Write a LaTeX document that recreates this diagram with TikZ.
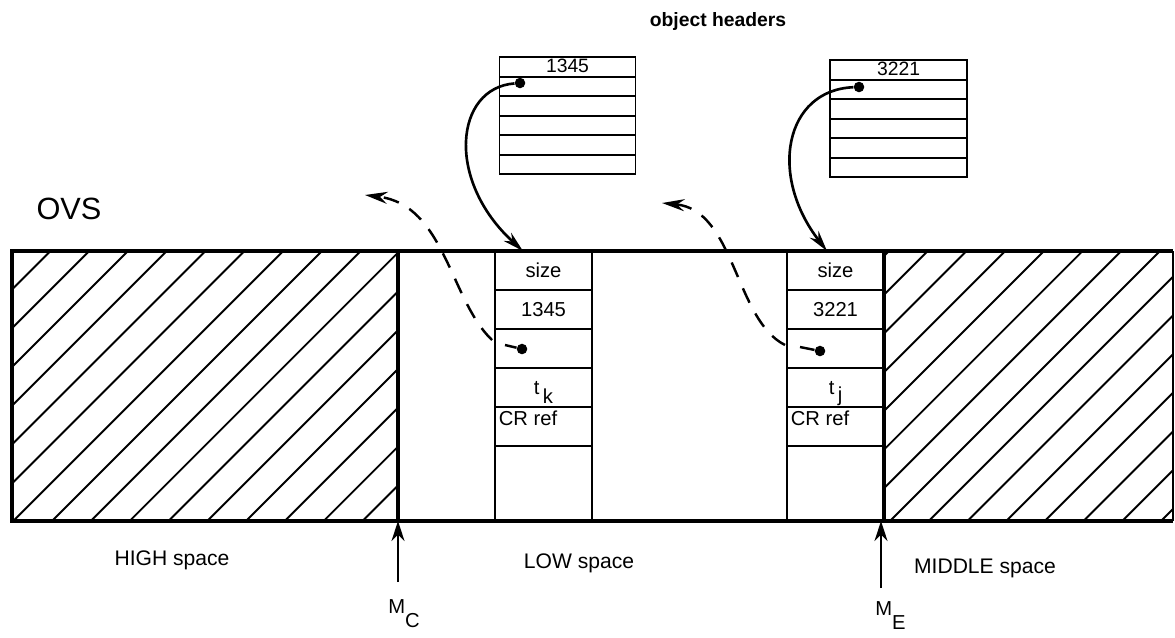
\documentclass[tikz,border=0pt]{standalone}
\usepackage{fontspec}
\setmainfont{Liberation Sans}
\usetikzlibrary{arrows.meta,positioning}

\begin{document}
\begin{tikzpicture}[x=0.02cm, y=-0.02cm,
  cell/.style={draw, line width=1.1pt, outer sep=0pt, minimum width=1.94cm, minimum height=0.78cm, inner sep=1pt, font=\fontsize{11.5}{13}\selectfont},
  hdrow/.style={draw, line width=1.1pt, outer sep=0pt, minimum width=2.72cm, minimum height=0.39cm, inner sep=0pt, text height=7pt, text depth=0pt, font=\fontsize{11}{12}\selectfont},
  lab/.style={font=\fontsize{12}{14}\selectfont},
  ptr/.style={-{Stealth[length=4.2mm, width=2.2mm]}, line width=1.5pt},
  back/.style={-{Stealth[length=4.5mm, width=2.4mm]}, line width=1.4pt, dash pattern=on 9pt off 7pt},
  limarr/.style={-{Stealth[length=4mm, width=2.6mm]}, line width=1.2pt},
  stub/.style={line width=1.4pt},
  dot/.style={circle, fill, inner sep=0pt, minimum size=6pt},
  hatch/.style={line width=1.1pt}
]
\useasboundingbox (0,0) rectangle (1175,637);

% hatched HIGH and MIDDLE space
\begin{scope}
  \clip (12,251) rectangle (398,521);
  \foreach \i in {-8,...,10}
    \draw[hatch] (52+38.8*\i,521) -- ++(275,-275);
\end{scope}
\begin{scope}
  \clip (884,251) rectangle (1173,521);
  \foreach \i in {-8,...,8}
    \draw[hatch] (890+38.7*\i,521) -- ++(275,-275);
\end{scope}

% the OVS bar
\draw[line width=2pt] (1173,251) -- (12,251) -- (12,521) -- (1173,521);
\draw[line width=0.8pt] (1173,251) -- (1173,521);
\coordinate (mc) at (398,521);
\coordinate (me) at (884,521);
\draw[line width=2.4pt] (398,251) -- (mc);
\draw[line width=2.4pt] (884,251) -- (me);

% object in LOW space
\node[cell] (sk) at (543.5,270.5) {size};
\node[cell, below=0pt of sk] (idk) {1345};
\node[cell, below=0pt of idk] (pk) {};
\node[cell, below=0pt of pk] (tk) {\smash{\raisebox{-4pt}{t}}\,\smash{\raisebox{-9pt}{k}}};
\node[cell, below=0pt of tk, label={[anchor=north west, inner sep=2pt, font=\fontsize{11.5}{13}\selectfont]north west:CR ref}] (crk) {};
\node[cell, below=0pt of crk, minimum height=1.5cm] (restk) {};

% object in MIDDLE space
\node[cell] (sj) at (835.5,270.5) {size};
\node[cell, below=0pt of sj] (idj) {3221};
\node[cell, below=0pt of idj] (pj) {};
\node[cell, below=0pt of pj] (tj) {\smash{\raisebox{-4pt}{t}}\,\smash{\raisebox{-8pt}{j}}};
\node[cell, below=0pt of tj, label={[anchor=north west, inner sep=2pt, font=\fontsize{11.5}{13}\selectfont]north west:CR ref}] (crj) {};
\node[cell, below=0pt of crj, minimum height=1.5cm] (restj) {};
\draw[line width=2.4pt] (sj.north east) -- (restj.south east);

% object headers
\node[font=\fontsize{11}{13}\selectfont\bfseries] (objh) at (718,21) {object headers};
\node[hdrow] (hk1) at (567.5,66.8) {1345};
\foreach \i [count=\j from 2] in {1,...,5}
  \node[hdrow, below=0pt of hk\i] (hk\j) {};
\node[hdrow, minimum width=2.74cm] (hj1) at (898.5,69.8) {3221};
\foreach \i [count=\j from 2] in {1,...,5}
  \node[hdrow, minimum width=2.74cm, below=0pt of hj\i] (hj\j) {};

% pointers
\node[dot] (dk) at (520,83) {};
\node[dot] (dj) at (859,87) {};
\draw[ptr] (dk) .. controls (455,88) and (445,180) .. ([xshift=0.56cm]sk.north west);
\draw[ptr] (dj) .. controls (785,90) and (768,175) .. ([xshift=0.8cm]sj.north west);

\node[dot] (pkd) at (522,349) {};
\node[dot] (pjd) at (820,351) {};
\coordinate (pks) at (505,345);
\coordinate (pjs) at (800,347);
\draw[stub] (pks) -- (pkd);
\draw[stub] (pjs) -- (pjd);

\coordinate (pkb) at (492,340);
\coordinate (pjb) at (785,345);
\coordinate (tohigh) at (365,195);
\coordinate (tolow) at (662,203);
\draw[back] (pkb) .. controls (450,300) and (445,205) .. (tohigh);
\draw[back] (pjb) .. controls (735,320) and (735,210) .. (tolow);

% labels
\node[font=\fontsize{17.5}{20}\selectfont] (ovs) at (69,209) {OVS};
\node[lab] (high) at (172,560) {HIGH space};
\node[lab] (low) at (579,563) {LOW space};
\node[lab] (mid) at (985,568) {MIDDLE space};

% limits
\coordinate (mcfoot) at (398,582);
\coordinate (mefoot) at (881,588);
\draw[limarr] (mcfoot) -- (mc);
\draw[limarr] (mefoot) -- (me -| mefoot);
\node[font=\fontsize{11.5}{13}\selectfont, anchor=base west, inner sep=0pt] (mclab) at (388,613) {M\raisebox{-8pt}{C}};
\node[font=\fontsize{11.5}{13}\selectfont, anchor=base west, inner sep=0pt] (melab) at (875,615) {M\raisebox{-8pt}{E}};
\end{tikzpicture}
\end{document}
